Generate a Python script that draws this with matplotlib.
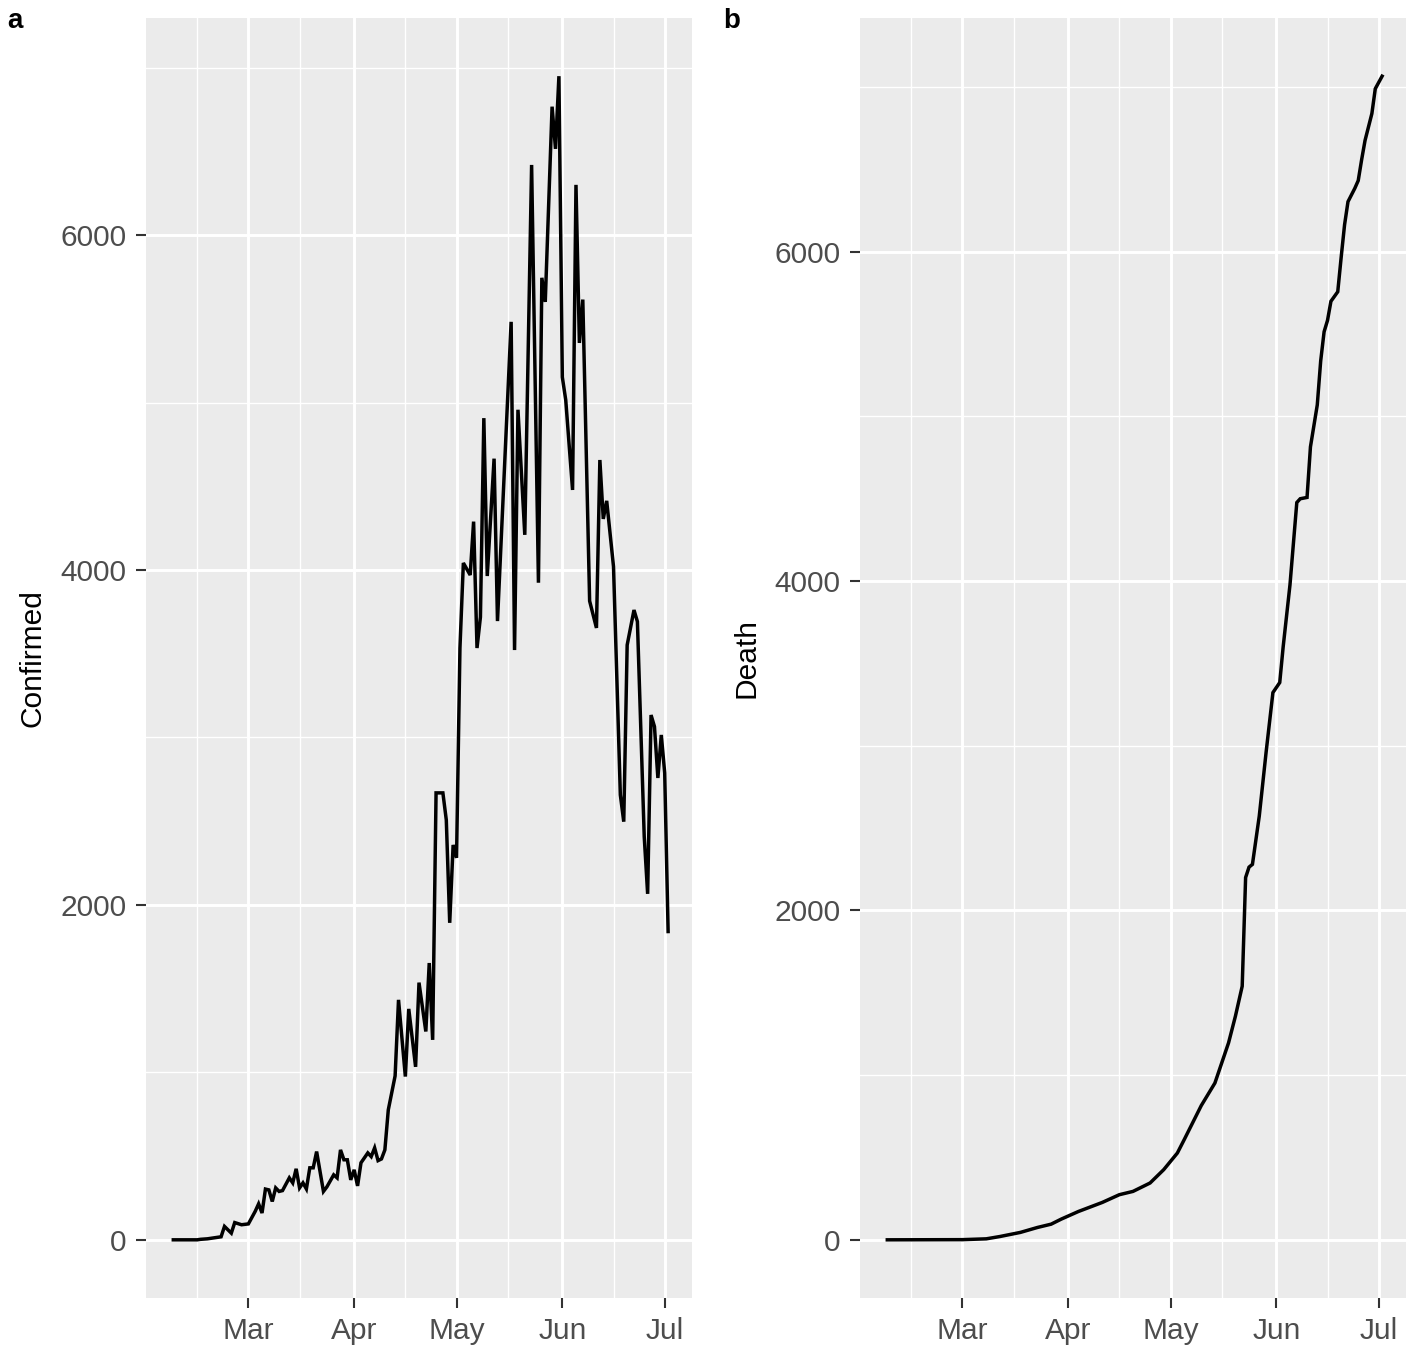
import datetime as dt
import matplotlib
matplotlib.use('Agg')
import matplotlib.pyplot as plt
import matplotlib.dates as mdates

plt.rcParams['font.family'] = ['Liberation Sans', 'DejaVu Sans']

start = dt.date(2020, 2, 8)

# daily confirmed cases (day offset from start, value)
conf_day = [0, 7, 8, 10, 12, 14, 15, 17, 18, 20, 22, 24, 25, 26, 27, 28, 29, 30, 31, 32,
            34, 35, 36, 37, 38, 39, 40, 41, 42, 44, 45, 47, 48, 49, 50, 51, 52, 53, 54, 55,
            57, 58, 59, 60, 61, 62, 63, 65, 66, 68, 69, 71, 72, 74, 75, 76, 77, 79, 80, 81,
            82, 83, 84, 85, 87, 88, 89, 90, 91, 92, 94, 95, 99, 100, 101, 103, 105, 107, 108, 109,
            111, 112, 113, 114, 115, 117, 118, 119, 120, 122, 124, 125, 126, 127, 129, 131, 132, 133, 135, 136,
            138, 139, 140, 141, 142, 143, 144, 145]
conf_val = [0, 0, 3, 6, 12, 18, 80, 40, 103, 90, 95, 170, 215, 160, 303, 298, 229, 310, 289, 294,
            370, 340, 424, 310, 340, 304, 430, 430, 527, 289, 316, 388, 370, 537, 478, 478, 358, 418, 322, 460,
            519, 497, 549, 473, 483, 537, 776, 979, 1433, 975, 1379, 1033, 1536, 1244, 1653, 1194, 2669, 2669, 2507, 1893,
            2358, 2281, 3534, 4042, 3970, 4289, 3534, 3719, 4907, 3964, 4665, 3695, 5482, 3522, 4957, 4210, 6419, 3924, 5745, 5601,
            6767, 6515, 6949, 5152, 5015, 4478, 6300, 5356, 5615, 3815, 3654, 4657, 4305, 4413, 4020, 2657, 2497, 3552, 3761, 3692,
            2408, 2066, 3134, 3065, 2758, 3015, 2788, 1841]

# cumulative deaths
death_day = [0, 22, 29, 33, 39, 44, 48, 51, 56, 63, 68, 72, 77, 81, 85, 87, 92, 96, 98, 100,
             102, 104, 105, 106, 107, 109, 111, 113, 115, 116, 118, 120, 121, 123, 124, 126, 127, 128, 129, 130,
             132, 133, 134, 135, 137, 138, 139, 140, 142, 143, 145]
death_val = [0, 1, 6, 20, 45, 75, 95, 126, 172, 227, 274, 294, 345, 426, 527, 608, 815, 952, 1074, 1196,
             1357, 1540, 2200, 2263, 2280, 2573, 2960, 3323, 3384, 3600, 3977, 4477, 4500, 4508, 4815, 5070, 5337, 5514, 5583, 5699,
             5757, 5966, 6164, 6304, 6385, 6432, 6559, 6676, 6839, 6990, 7066]

month_ticks = [dt.date(2020, m, 1) for m in (3, 4, 5, 6, 7)]
month_labels = ['Mar', 'Apr', 'May', 'Jun', 'Jul']
minor_x = [dt.date(2020, 2, 15), dt.date(2020, 3, 16), dt.date(2020, 4, 16),
           dt.date(2020, 5, 16), dt.date(2020, 6, 16)]


def to_dates(days):
    return [start + dt.timedelta(days=int(d)) for d in days]


def gg_panel(ax, days, vals, ylabel):
    x = to_dates(days)
    ax.set_facecolor('#EBEBEB')
    ax.plot(x, vals, color='black', lw=2.5, solid_joinstyle='miter', zorder=3)
    span = max(days) - min(days)
    x0 = start + dt.timedelta(days=min(days) - 0.05 * span)
    x1 = start + dt.timedelta(days=max(days) + 0.05 * span)
    ax.set_xlim(x0, x1)
    top = max(vals)
    ax.set_ylim(-0.05 * top, 1.05 * top)
    ax.set_yticks([0, 2000, 4000, 6000])
    ax.set_yticks([1000, 3000, 5000, 7000], minor=True)
    ax.set_xticks(month_ticks)
    ax.set_xticklabels(month_labels)
    ax.set_xticks(minor_x, minor=True)
    ax.grid(which='major', color='white', lw=2.1)
    ax.grid(which='minor', color='white', lw=1.0)
    ax.set_axisbelow(True)
    for s in ax.spines.values():
        s.set_visible(False)
    ax.tick_params(which='major', length=7, width=1.5, color='#333333',
                   labelsize=21.5, labelcolor='#4D4D4D', pad=7)
    ax.tick_params(which='minor', length=0)
    ax.set_ylabel(ylabel, fontsize=21.5, labelpad=10)


fig = plt.figure(figsize=(14.16, 13.46), dpi=100)
ax1 = fig.add_axes([146 / 1416, 48 / 1346, 546 / 1416, 1280 / 1346])
ax2 = fig.add_axes([860 / 1416, 48 / 1346, 546 / 1416, 1280 / 1346])

gg_panel(ax1, conf_day, conf_val, 'Confirmed')
gg_panel(ax2, death_day, death_val, 'Death')

fig.text(15 / 1416, 1 - 21 / 1346, 'a', fontsize=20, fontweight='bold', ha='center', va='center')
fig.text(732 / 1416, 1 - 21 / 1346, 'b', fontsize=20, fontweight='bold', ha='center', va='center')

fig.savefig('out.png', dpi=100)
